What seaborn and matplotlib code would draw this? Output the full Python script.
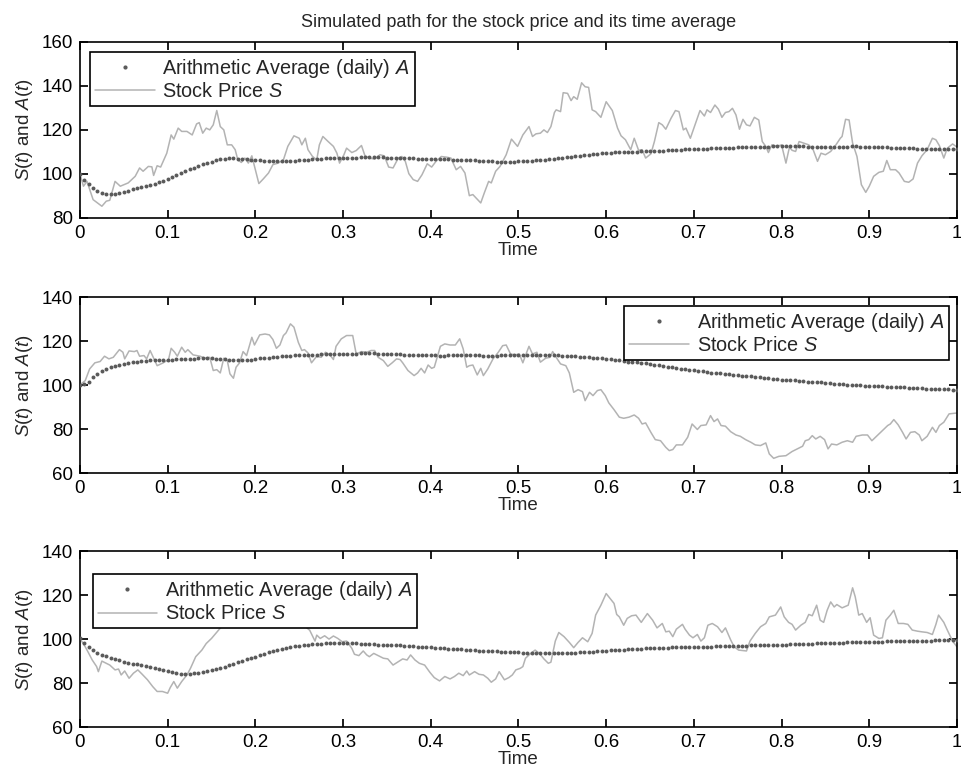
import matplotlib
matplotlib.use("Agg")
import matplotlib.pyplot as plt
import matplotlib.lines as mlines
import seaborn as sns

# ------------------------------------------------------------------
# DATA
# ------------------------------------------------------------------
# sampling times of the averaged curve (half-percent steps of the year)
t_avg = [i / 200 for i in range(201)]

# panel 1 - stock price path
t_s1 = [0.000, 0.004, 0.008, 0.015, 0.025, 0.030, 0.034, 0.040, 0.046, 0.055,
        0.063, 0.068, 0.072, 0.078, 0.082, 0.084, 0.088, 0.092, 0.099, 0.104,
        0.107, 0.112, 0.116, 0.122, 0.128, 0.133, 0.136, 0.140, 0.144, 0.148,
        0.152, 0.156, 0.160, 0.164, 0.168, 0.173, 0.177, 0.180, 0.184, 0.188,
        0.192, 0.196, 0.199, 0.204, 0.209, 0.215, 0.220, 0.226, 0.232, 0.237,
        0.244, 0.250, 0.253, 0.257, 0.260, 0.265, 0.270, 0.273, 0.277, 0.283,
        0.289, 0.293, 0.296, 0.301, 0.304, 0.310, 0.315, 0.321, 0.325, 0.330,
        0.336, 0.342, 0.347, 0.352, 0.357, 0.363, 0.367, 0.371, 0.375, 0.380,
        0.385, 0.390, 0.396, 0.401, 0.406, 0.412, 0.418, 0.423, 0.429, 0.434,
        0.439, 0.444, 0.448, 0.457, 0.461, 0.466, 0.469, 0.474, 0.479, 0.486,
        0.492, 0.499, 0.505, 0.512, 0.516, 0.520, 0.525, 0.529, 0.533, 0.537,
        0.541, 0.543, 0.548, 0.551, 0.556, 0.560, 0.563, 0.567, 0.572, 0.576,
        0.580, 0.584, 0.588, 0.594, 0.600, 0.607, 0.613, 0.617, 0.622, 0.628,
        0.632, 0.637, 0.641, 0.645, 0.651, 0.655, 0.660, 0.664, 0.668, 0.674,
        0.679, 0.683, 0.688, 0.691, 0.696, 0.702, 0.707, 0.712, 0.715, 0.719,
        0.724, 0.728, 0.732, 0.736, 0.740, 0.744, 0.748, 0.752, 0.756, 0.760,
        0.764, 0.769, 0.774, 0.778, 0.782, 0.785, 0.789, 0.795, 0.800, 0.805,
        0.809, 0.812, 0.816, 0.820, 0.825, 0.831, 0.836, 0.841, 0.845, 0.850,
        0.856, 0.862, 0.867, 0.869, 0.873, 0.877, 0.881, 0.886, 0.891, 0.896,
        0.900, 0.905, 0.911, 0.916, 0.920, 0.924, 0.930, 0.934, 0.940, 0.945,
        0.950, 0.955, 0.960, 0.966, 0.972, 0.976, 0.980, 0.985, 0.989, 0.995,
        1.000]
s1 = [100.0, 94.4, 96.6, 88.3, 85.3, 87.6, 88.0, 96.6, 94.4, 95.9,
      98.9, 102.7, 101.2, 103.4, 103.2, 99.3, 103.7, 103.1, 109.4, 117.7,
      115.8, 120.8, 119.3, 119.3, 117.7, 122.7, 123.3, 118.5, 120.8, 120.0,
      122.3, 128.8, 121.5, 120.0, 113.2, 113.2, 111.0, 106.4, 105.2, 107.2,
      104.9, 108.2, 103.4, 95.6, 97.7, 100.4, 104.2, 104.9, 106.4, 112.5,
      117.3, 116.2, 113.2, 116.2, 111.0, 108.0, 106.4, 113.2, 117.0, 114.7,
      112.5, 109.4, 104.9, 108.7, 111.7, 109.7, 110.6, 112.9, 108.2, 107.2,
      106.7, 108.7, 108.2, 103.1, 102.7, 107.2, 107.9, 105.7, 100.1, 97.4,
      96.6, 99.6, 104.6, 103.1, 105.7, 107.9, 107.6, 107.2, 101.9, 103.4,
      100.4, 90.1, 90.6, 86.8, 91.3, 96.6, 95.9, 101.2, 103.4, 108.7,
      115.8, 112.5, 117.7, 121.5, 117.0, 118.2, 118.5, 120.0, 118.8, 121.5,
      127.9, 129.1, 128.3, 136.9, 136.6, 133.3, 135.1, 133.9, 141.4, 139.6,
      139.3, 129.1, 128.3, 125.7, 132.8, 128.8, 120.8, 117.3, 115.5, 111.0,
      116.2, 110.7, 111.0, 107.2, 109.1, 114.7, 123.3, 122.3, 120.3, 125.3,
      128.8, 128.3, 120.0, 120.8, 116.2, 123.0, 128.8, 126.3, 129.1, 127.9,
      131.3, 129.4, 125.7, 127.9, 128.3, 129.8, 126.8, 120.3, 124.8, 122.3,
      121.8, 125.7, 124.5, 114.7, 112.5, 109.7, 113.2, 112.5, 113.2, 104.9,
      112.2, 110.7, 110.2, 114.7, 114.0, 113.2, 111.0, 105.7, 109.4, 108.7,
      110.2, 113.2, 116.2, 117.0, 124.8, 124.5, 114.0, 107.9, 95.1, 91.6,
      94.4, 98.9, 100.7, 101.2, 106.1, 101.9, 101.9, 100.4, 96.6, 96.2,
      97.7, 104.9, 108.2, 111.0, 116.2, 115.5, 112.8, 107.2, 111.7, 113.6,
      112.2]
a1 = [100.0, 97.3, 95.2, 93.6, 92.4, 91.4, 90.8, 90.7, 90.9, 91.4,
      91.9, 92.4, 93.0, 93.5, 94.0, 94.5, 95.0, 95.6, 96.2, 96.9,
      97.6, 98.5, 99.5, 100.4, 101.2, 102.1, 102.9, 103.6, 104.3, 105.0,
      105.6, 106.2, 106.6, 106.9, 107.0, 107.0, 106.8, 106.7, 106.6, 106.4,
      106.3, 106.1, 106.0, 105.9, 105.8, 105.7, 105.7, 105.8, 105.9, 106.0,
      106.2, 106.3, 106.5, 106.6, 106.8, 106.9, 107.0, 107.1, 107.2, 107.2,
      107.3, 107.3, 107.4, 107.4, 107.5, 107.5, 107.5, 107.5, 107.5, 107.5,
      107.4, 107.3, 107.3, 107.2, 107.2, 107.1, 107.0, 106.9, 106.9, 106.8,
      106.8, 106.7, 106.7, 106.6, 106.6, 106.5, 106.5, 106.4, 106.4, 106.3,
      106.2, 106.0, 105.9, 105.8, 105.7, 105.6, 105.6, 105.6, 105.6, 105.6,
      105.7, 105.8, 105.9, 106.0, 106.1, 106.2, 106.4, 106.6, 106.8, 107.0,
      107.3, 107.5, 107.8, 108.0, 108.3, 108.5, 108.8, 109.0, 109.2, 109.3,
      109.5, 109.6, 109.8, 109.9, 110.0, 110.0, 110.1, 110.1, 110.2, 110.2,
      110.3, 110.4, 110.5, 110.6, 110.7, 110.8, 110.9, 111.0, 111.1, 111.2,
      111.3, 111.4, 111.5, 111.5, 111.6, 111.7, 111.8, 111.8, 111.9, 111.9,
      112.0, 112.1, 112.2, 112.2, 112.3, 112.3, 112.4, 112.4, 112.5, 112.5,
      112.5, 112.5, 112.5, 112.5, 112.5, 112.5, 112.4, 112.3, 112.3, 112.3,
      112.3, 112.3, 112.3, 112.4, 112.4, 112.4, 112.5, 112.5, 112.4, 112.4,
      112.3, 112.2, 112.1, 112.0, 112.0, 111.9, 111.9, 111.8, 111.7, 111.6,
      111.6, 111.5, 111.5, 111.4, 111.4, 111.4, 111.4, 111.3, 111.3, 111.3,
      111.3]

# panel 2 - stock price path
t_s2 = [0.000, 0.006, 0.011, 0.017, 0.023, 0.028, 0.033, 0.038, 0.045, 0.049,
        0.051, 0.056, 0.062, 0.065, 0.068, 0.073, 0.076, 0.080, 0.084, 0.088,
        0.095, 0.101, 0.104, 0.108, 0.111, 0.116, 0.120, 0.123, 0.129, 0.137,
        0.142, 0.148, 0.152, 0.156, 0.160, 0.164, 0.168, 0.171, 0.175, 0.178,
        0.182, 0.186, 0.190, 0.196, 0.199, 0.205, 0.211, 0.216, 0.220, 0.224,
        0.228, 0.232, 0.235, 0.240, 0.244, 0.249, 0.253, 0.256, 0.260, 0.264,
        0.270, 0.275, 0.280, 0.285, 0.289, 0.292, 0.298, 0.304, 0.311, 0.315,
        0.321, 0.327, 0.332, 0.336, 0.340, 0.346, 0.351, 0.356, 0.361, 0.365,
        0.368, 0.374, 0.381, 0.385, 0.389, 0.393, 0.397, 0.401, 0.404, 0.411,
        0.416, 0.422, 0.428, 0.433, 0.437, 0.441, 0.444, 0.448, 0.453, 0.457,
        0.460, 0.465, 0.471, 0.477, 0.482, 0.486, 0.491, 0.496, 0.501, 0.505,
        0.508, 0.512, 0.516, 0.521, 0.525, 0.531, 0.536, 0.539, 0.543, 0.548,
        0.554, 0.558, 0.563, 0.568, 0.573, 0.576, 0.581, 0.585, 0.590, 0.594,
        0.599, 0.603, 0.609, 0.615, 0.620, 0.626, 0.632, 0.637, 0.641, 0.645,
        0.651, 0.656, 0.662, 0.668, 0.672, 0.676, 0.680, 0.687, 0.693, 0.698,
        0.704, 0.708, 0.714, 0.719, 0.723, 0.727, 0.731, 0.736, 0.742, 0.748,
        0.753, 0.759, 0.765, 0.770, 0.776, 0.782, 0.786, 0.791, 0.797, 0.805,
        0.812, 0.818, 0.824, 0.827, 0.831, 0.835, 0.839, 0.844, 0.849, 0.853,
        0.857, 0.863, 0.869, 0.875, 0.881, 0.885, 0.892, 0.898, 0.903, 0.909,
        0.915, 0.921, 0.924, 0.928, 0.933, 0.938, 0.942, 0.947, 0.952, 0.957,
        0.960, 0.966, 0.972, 0.976, 0.980, 0.985, 0.991, 1.000]
s2 = [100.2, 102.1, 107.4, 110.2, 110.8, 113.2, 112.0, 112.7, 116.2, 115.0,
      112.0, 115.6, 115.3, 115.8, 113.2, 113.5, 112.0, 115.8, 112.3, 108.9,
      110.2, 111.7, 116.8, 115.0, 113.2, 117.3, 115.0, 116.2, 113.8, 113.2,
      112.3, 112.7, 106.7, 107.1, 105.6, 112.3, 111.2, 105.2, 103.2, 108.2,
      110.2, 115.3, 113.5, 121.8, 118.3, 122.9, 123.3, 122.9, 120.8, 116.8,
      118.3, 122.6, 123.8, 127.9, 126.4, 119.5, 115.8, 116.2, 114.7, 110.2,
      113.2, 112.7, 115.0, 113.8, 111.7, 117.7, 121.1, 122.6, 122.6, 114.2,
      115.3, 115.0, 115.8, 115.8, 112.7, 111.2, 108.6, 110.2, 112.0, 111.7,
      110.2, 106.7, 104.4, 105.6, 107.7, 105.6, 109.2, 107.7, 108.2, 117.7,
      118.8, 118.3, 118.3, 121.1, 116.5, 108.2, 108.9, 109.2, 104.7, 107.7,
      104.4, 107.4, 112.0, 115.0, 118.0, 118.3, 114.2, 113.8, 114.2, 110.2,
      113.5, 117.7, 114.2, 115.0, 110.5, 112.3, 112.7, 115.3, 112.7, 109.7,
      108.9, 105.6, 96.8, 98.0, 97.1, 93.0, 96.8, 95.3, 97.6, 98.0,
      95.3, 92.0, 88.9, 85.5, 85.0, 85.5, 86.5, 85.0, 82.4, 82.9,
      78.6, 75.3, 74.8, 71.8, 70.3, 70.8, 72.9, 72.9, 76.4, 82.4,
      79.9, 81.7, 82.0, 86.2, 83.5, 84.7, 81.7, 81.4, 78.9, 77.4,
      76.8, 75.3, 74.1, 72.9, 72.6, 73.8, 68.8, 66.8, 67.7, 68.0,
      69.9, 71.1, 72.3, 74.8, 75.3, 77.1, 75.6, 76.8, 75.3, 71.1,
      73.3, 72.9, 74.1, 74.8, 74.1, 76.8, 77.4, 77.4, 74.8, 77.1,
      79.4, 81.7, 82.4, 84.4, 82.0, 78.6, 75.6, 78.6, 78.9, 77.4,
      74.8, 76.8, 80.9, 78.6, 81.7, 83.2, 87.0, 87.4]
a2 = [100.2, 100.4, 101.6, 103.6, 105.2, 106.4, 107.3, 108.1, 108.7, 109.3,
      109.8, 110.2, 110.5, 110.7, 110.9, 111.1, 111.3, 111.4, 111.5, 111.6,
      111.7, 111.7, 111.8, 111.9, 112.0, 112.0, 112.1, 112.2, 112.3, 112.3,
      112.2, 112.1, 112.0, 111.8, 111.6, 111.4, 111.3, 111.3, 111.5, 111.7,
      111.9, 112.2, 112.4, 112.6, 112.8, 113.0, 113.2, 113.4, 113.5, 113.6,
      113.7, 113.8, 113.8, 113.9, 113.9, 114.0, 114.0, 114.1, 114.1, 114.2,
      114.3, 114.3, 114.4, 114.4, 114.5, 114.5, 114.5, 114.5, 114.4, 114.3,
      114.2, 114.1, 114.0, 114.0, 113.9, 113.9, 113.8, 113.8, 113.7, 113.7,
      113.6, 113.6, 113.5, 113.5, 113.6, 113.6, 113.7, 113.7, 113.7, 113.7,
      113.6, 113.6, 113.5, 113.5, 113.5, 113.5, 113.6, 113.6, 113.7, 113.7,
      113.8, 113.8, 113.8, 113.8, 113.8, 113.8, 113.7, 113.7, 113.7, 113.6,
      113.5, 113.4, 113.3, 113.2, 113.0, 112.9, 112.7, 112.6, 112.4, 112.2,
      112.0, 111.8, 111.5, 111.3, 111.1, 110.8, 110.6, 110.4, 110.1, 109.9,
      109.7, 109.4, 109.1, 108.8, 108.5, 108.2, 107.9, 107.6, 107.3, 107.1,
      106.8, 106.6, 106.3, 106.1, 105.8, 105.6, 105.4, 105.2, 105.0, 104.8,
      104.6, 104.4, 104.2, 104.0, 103.8, 103.6, 103.4, 103.2, 103.0, 102.8,
      102.6, 102.5, 102.3, 102.2, 102.0, 101.9, 101.7, 101.6, 101.4, 101.3,
      101.1, 101.0, 100.8, 100.6, 100.4, 100.3, 100.1, 100.0, 99.9, 99.8,
      99.7, 99.6, 99.5, 99.5, 99.4, 99.3, 99.2, 99.1, 99.0, 98.9,
      98.8, 98.7, 98.6, 98.5, 98.4, 98.3, 98.2, 98.2, 98.1, 98.0,
      98.0]

# panel 3 - stock price path (part between 0.15 and 0.27 sits behind the legend)
t_s3 = [0.000, 0.006, 0.009, 0.014, 0.019, 0.021, 0.025, 0.030, 0.034, 0.040,
        0.044, 0.047, 0.051, 0.056, 0.061, 0.066, 0.071, 0.077, 0.083, 0.088,
        0.094, 0.100, 0.103, 0.107, 0.111, 0.116, 0.122, 0.126, 0.132, 0.139,
        0.144, 0.150, 0.160, 0.175, 0.190, 0.205, 0.220, 0.235, 0.250, 0.262,
        0.268, 0.270, 0.274, 0.279, 0.284, 0.289, 0.294, 0.299, 0.304, 0.310,
        0.313, 0.318, 0.323, 0.327, 0.330, 0.335, 0.340, 0.346, 0.351, 0.357,
        0.363, 0.368, 0.373, 0.377, 0.382, 0.387, 0.393, 0.399, 0.404, 0.410,
        0.416, 0.422, 0.427, 0.432, 0.437, 0.441, 0.444, 0.450, 0.455, 0.460,
        0.465, 0.469, 0.474, 0.478, 0.484, 0.489, 0.493, 0.497, 0.502, 0.505,
        0.508, 0.514, 0.519, 0.524, 0.529, 0.534, 0.537, 0.542, 0.546, 0.552,
        0.558, 0.563, 0.568, 0.573, 0.579, 0.584, 0.588, 0.594, 0.600, 0.604,
        0.609, 0.612, 0.615, 0.620, 0.624, 0.629, 0.634, 0.640, 0.647, 0.653,
        0.658, 0.664, 0.668, 0.672, 0.676, 0.680, 0.687, 0.690, 0.695, 0.699,
        0.704, 0.708, 0.712, 0.716, 0.721, 0.727, 0.732, 0.736, 0.742, 0.746,
        0.751, 0.760, 0.764, 0.770, 0.776, 0.782, 0.786, 0.793, 0.799, 0.803,
        0.808, 0.812, 0.816, 0.822, 0.827, 0.831, 0.835, 0.840, 0.844, 0.848,
        0.852, 0.856, 0.860, 0.863, 0.869, 0.876, 0.881, 0.884, 0.888, 0.892,
        0.897, 0.901, 0.905, 0.911, 0.915, 0.919, 0.924, 0.928, 0.933, 0.939,
        0.944, 0.949, 0.955, 0.960, 0.966, 0.972, 0.976, 0.979, 0.985, 0.989,
        0.995, 1.000]
s3 = [100.3, 96.5, 94.3, 90.5, 87.5, 85.2, 90.0, 89.0, 88.2, 86.0,
      86.4, 83.7, 85.5, 82.2, 84.5, 86.0, 84.0, 81.5, 78.4, 76.2,
      76.2, 75.4, 78.0, 80.7, 77.7, 80.7, 83.7, 86.7, 92.0, 95.0,
      98.0, 100.3, 105.0, 109.0, 112.0, 110.0, 114.0, 111.0, 108.0, 104.0,
      99.1, 101.8, 100.3, 101.5, 100.0, 101.4, 100.3, 98.8, 99.1, 95.8,
      93.1, 92.5, 94.6, 92.8, 92.0, 93.5, 92.5, 91.3, 91.0, 88.2,
      89.7, 91.0, 90.5, 92.8, 90.5, 89.0, 88.2, 84.9, 82.5, 81.0,
      83.0, 81.9, 83.0, 84.5, 83.4, 85.5, 83.7, 85.2, 84.0, 83.7,
      82.2, 80.4, 81.9, 85.2, 81.5, 82.5, 83.7, 86.0, 86.7, 87.5,
      91.3, 93.5, 95.0, 93.5, 91.0, 89.0, 89.5, 99.1, 103.0, 101.1,
      98.5, 96.1, 98.5, 100.6, 98.8, 102.6, 110.9, 115.4, 120.7, 118.7,
      116.2, 111.2, 110.1, 106.3, 109.4, 110.6, 110.9, 107.6, 111.6, 108.6,
      105.1, 107.1, 103.3, 103.6, 101.1, 104.5, 106.7, 104.5, 101.8, 100.6,
      102.1, 99.1, 100.6, 106.3, 107.1, 105.6, 103.0, 105.1, 99.6, 96.5,
      95.0, 94.6, 99.1, 102.6, 105.6, 107.1, 110.1, 110.9, 114.6, 110.1,
      107.6, 106.7, 104.1, 106.3, 107.6, 111.2, 110.6, 115.4, 108.6, 107.6,
      113.1, 116.9, 114.6, 115.7, 114.2, 115.4, 123.3, 119.2, 110.9, 111.6,
      107.6, 109.7, 101.8, 100.3, 100.6, 108.6, 110.9, 113.1, 107.1, 107.1,
      106.7, 104.1, 103.6, 103.3, 103.0, 102.1, 106.7, 110.9, 107.6, 104.1,
      99.1, 96.5]
a3 = [100.3, 98.3, 96.6, 95.0, 93.8, 92.9, 92.2, 91.6, 91.0, 90.4,
      89.8, 89.3, 88.9, 88.6, 88.2, 87.8, 87.4, 87.0, 86.6, 86.1,
      85.6, 85.1, 84.7, 84.3, 84.1, 84.1, 84.4, 84.7, 85.0, 85.4,
      85.8, 86.2, 86.7, 87.3, 88.0, 88.8, 89.6, 90.2, 90.8, 91.4,
      92.0, 92.7, 93.4, 94.1, 94.7, 95.2, 95.6, 96.0, 96.4, 96.7,
      97.0, 97.3, 97.5, 97.7, 97.8, 97.9, 98.0, 98.1, 98.1, 98.1,
      98.1, 98.1, 98.0, 98.0, 97.9, 97.8, 97.7, 97.6, 97.5, 97.4,
      97.3, 97.2, 97.1, 97.1, 97.0, 96.9, 96.7, 96.6, 96.5, 96.4,
      96.2, 96.1, 96.0, 95.9, 95.7, 95.6, 95.4, 95.3, 95.1, 95.0,
      94.9, 94.8, 94.7, 94.6, 94.5, 94.4, 94.3, 94.2, 94.1, 94.1,
      94.0, 93.9, 93.8, 93.8, 93.7, 93.7, 93.6, 93.6, 93.6, 93.6,
      93.7, 93.7, 93.8, 93.9, 94.0, 94.1, 94.2, 94.3, 94.5, 94.6,
      94.7, 94.9, 95.0, 95.1, 95.2, 95.4, 95.5, 95.6, 95.7, 95.8,
      95.9, 96.0, 96.0, 96.1, 96.1, 96.2, 96.2, 96.3, 96.3, 96.4,
      96.4, 96.5, 96.5, 96.6, 96.6, 96.7, 96.7, 96.8, 96.8, 96.9,
      96.9, 97.0, 97.0, 97.1, 97.1, 97.2, 97.2, 97.3, 97.3, 97.4,
      97.4, 97.5, 97.6, 97.6, 97.7, 97.7, 97.8, 97.9, 98.0, 98.0,
      98.1, 98.1, 98.2, 98.3, 98.4, 98.5, 98.6, 98.6, 98.7, 98.7,
      98.8, 98.8, 98.9, 98.9, 99.0, 99.0, 99.1, 99.1, 99.2, 99.2,
      99.2, 99.3, 99.3, 99.3, 99.3, 99.4, 99.4, 99.5, 99.5, 99.6,
      99.6]

x_ticks = [0, 0.1, 0.2, 0.3, 0.4, 0.5, 0.6, 0.7, 0.8, 0.9, 1]
x_tick_labels = ["0", "0.1", "0.2", "0.3", "0.4", "0.5", "0.6", "0.7", "0.8", "0.9", "1"]

# ------------------------------------------------------------------
# SETTINGS
# ------------------------------------------------------------------
sns.set_theme(style="ticks")
plt.rcParams.update({
    "font.family": ["Liberation Sans", "DejaVu Sans"],
    "mathtext.fontset": "custom",
    "mathtext.rm": "Liberation Sans",
    "mathtext.it": "Liberation Sans:italic",
    "font.size": 13.5,
    "axes.edgecolor": "black",
    "axes.linewidth": 1.2,
    "xtick.direction": "in",
    "ytick.direction": "in",
    "xtick.major.size": 6,
    "ytick.major.size": 6,
    "xtick.color": "black",
    "ytick.color": "black",
    "xtick.labelsize": 13.5,
    "ytick.labelsize": 13.5,
})

PRICE_COLOR = "#b3b3b3"
AVG_COLOR = "#5a5a5a"

panels = [
    dict(t_s=t_s1, s=s1, a=a1, ylim=(80, 160), yticks=[80, 100, 120, 140, 160],
         bottom=0.721, loc="upper left", anchor=(0.0114, 0.945)),
    dict(t_s=t_s2, s=s2, a=a2, ylim=(60, 140), yticks=[60, 80, 100, 120, 140],
         bottom=0.394, loc="upper right", anchor=(0.991, 0.951)),
    dict(t_s=t_s3, s=s3, a=a3, ylim=(60, 140), yticks=[60, 80, 100, 120, 140],
         bottom=0.069, loc="upper left", anchor=(0.0145, 0.869)),
]

fig = plt.figure(figsize=(9.61, 7.81), dpi=100)

for i, p in enumerate(panels):
    ax = fig.add_axes([0.0832, p["bottom"], 0.9126, 0.2254])
    sns.lineplot(x=p["t_s"], y=p["s"], color=PRICE_COLOR, linewidth=1.1,
                 estimator=None, sort=False, ax=ax, zorder=2)
    sns.scatterplot(x=t_avg, y=p["a"], color=AVG_COLOR, s=8, linewidth=0,
                    ax=ax, zorder=3)

    ax.set_xlim(0, 1)
    ax.set_ylim(*p["ylim"])
    ax.set_xticks(x_ticks)
    ax.set_xticklabels(x_tick_labels)
    ax.set_yticks(p["yticks"])
    ax.tick_params(top=True, right=True, pad=5)
    ax.set_xlabel("Time", fontsize=13.5, labelpad=0)
    ax.set_ylabel(r"$S$($t$) and $A$($t$)", fontsize=13.5, labelpad=5)
    for side in ["top", "right", "left", "bottom"]:
        ax.spines[side].set_visible(True)

    h_avg = mlines.Line2D([], [], color=AVG_COLOR, marker=".", markersize=4,
                          linestyle="None")
    h_price = mlines.Line2D([], [], color=PRICE_COLOR, linewidth=1.1)
    leg = ax.legend([h_avg, h_price],
                    [r"Arithmetic Average (daily) $A$", r"Stock Price $S$"],
                    loc=p["loc"], bbox_to_anchor=p["anchor"], borderaxespad=0,
                    fontsize=14.3, frameon=True, fancybox=False, framealpha=1,
                    edgecolor="black", handlelength=3.0, handletextpad=0.4,
                    labelspacing=0.12, borderpad=0.25)
    leg.get_frame().set_linewidth(1.2)
    leg.set_zorder(5)

    if i == 0:
        ax.set_title("Simulated path for the stock price and its time average",
                     fontsize=13, pad=11)

plt.savefig("out.png", dpi=100)
plt.close()
